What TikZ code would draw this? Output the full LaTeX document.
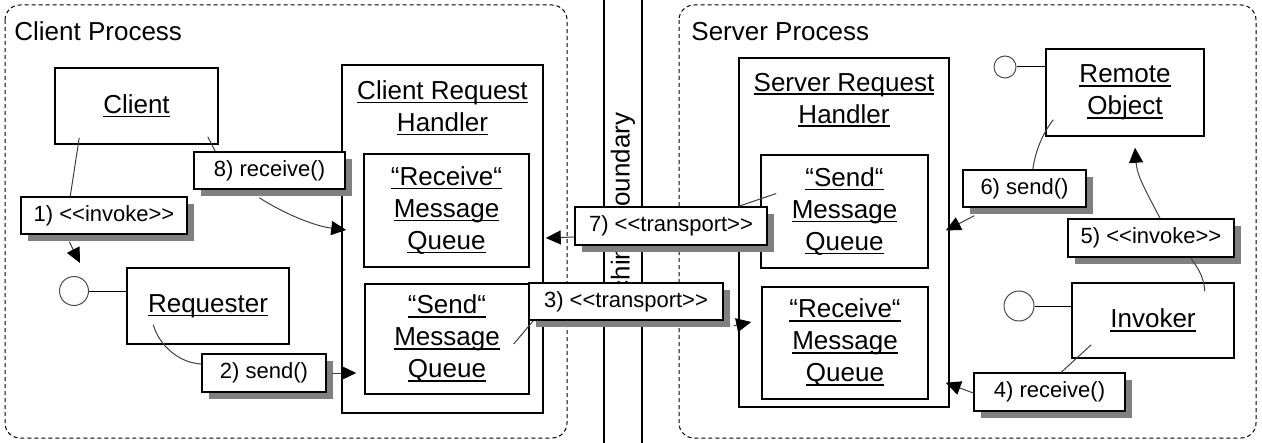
\documentclass[tikz,border=0pt]{standalone}
\usepackage{fontspec}
\setmainfont{Liberation Sans}
\usepackage{tikz}
\usetikzlibrary{arrows.meta,calc}
\newsavebox\ulbox
\newcommand\ulin[1]{\sbox\ulbox{#1}\rlap{\rule[-2pt]{\wd\ulbox}{0.8pt}}\usebox\ulbox}
\newcommand\dlt{<\kern0pt<}
\newcommand\dgt{>\kern0pt>}
\begin{document}
\begin{tikzpicture}[x=0.5pt,y=-0.5pt,
	wh/.style 2 args={minimum width=#1*0.5pt,minimum height=#2*0.5pt},
	obj/.style={draw=black,line width=0.75pt,fill=white,inner sep=0pt,align=center,font=\fontsize{13}{16}\selectfont},
	msg/.style={obj,font=\fontsize{11}{13}\selectfont},
	shade/.style={fill=cshadow,inner sep=0pt},
	iface/.style={circle,draw=cface,line width=0.5pt,fill=white,inner sep=0pt},
	proc/.style={draw=black,line width=0.5pt,dash pattern=on 2pt off 1.5pt,rounded corners=7.5pt},
	link/.style={draw=clink,line width=0.5pt},
	call/.style={link,-{Triangle[length=7.5pt,width=7pt,color=black]}},
	ttl/.style={inner sep=0pt,font=\fontsize{13}{16}\selectfont}]
	\definecolor{cshadow}{rgb}{0.5,0.5,0.5}
	\definecolor{clink}{rgb}{0.25,0.25,0.25}
	\definecolor{cface}{rgb}{0.3,0.3,0.3}
	%
	\useasboundingbox (0,0) rectangle (1262,443);
	\draw[proc] (5,5) rectangle (567,438);
	\draw[proc] (679,5) rectangle (1256,438);
	\node[ttl,anchor=base west] (cproc) at (14,41) {Client Process};
	\node[ttl,anchor=base west] (sproc) at (691,41) {Server Process};
	\draw[line width=0.75pt] (604,0) -- (604,443);
	\draw[line width=0.75pt] (642,0) -- (642,443);
	\node[ttl,rotate=90] (boundary) at (623,221) {Machine Boundary};
	%
	\node[obj,wh={163}{76}] (client) at (136.5,106) {\ulin{Client}};
	\node[obj,wh={162}{76}] (requester) at (208,306) {\ulin{Requester}};
	\node[iface,minimum size=14.5pt] (reqif) at (74,291) {};
	\node[obj,wh={201}{348}] (crh) at (442.5,239) {};
	\node[ttl,align=center] (crhtitle) at (442.5,108) {\ulin{Client Request}\\\ulin{Handler}};
	\node[obj,wh={165}{113}] (crecv) at (446.5,210.5) {\ulin{“Receive“}\\\ulin{Message}\\\ulin{Queue}};
	\node[obj,wh={164}{110}] (csend) at (447,339) {\ulin{“Send“}\\\ulin{Message}\\\ulin{Queue}};
	%
	\node[obj,wh={210}{349}] (srh) at (844,232.5) {};
	\node[ttl,align=center] (srhtitle) at (844,100) {\ulin{Server Request}\\\ulin{Handler}};
	\node[obj,wh={167}{113}] (ssend) at (844.5,211.5) {\ulin{“Send“}\\\ulin{Message}\\\ulin{Queue}};
	\node[obj,wh={166}{112}] (srecv) at (845,343) {\ulin{“Receive“}\\\ulin{Message}\\\ulin{Queue}};
	\node[obj,wh={158}{87}] (remote) at (1125,92.5) {\ulin{Remote}\\\ulin{Object}};
	\node[iface,minimum size=11pt] (remif) at (1005,67) {};
	\node[obj,wh={162}{75}] (invoker) at (1153,320.5) {\ulin{Invoker}};
	\node[iface,minimum size=15pt] (invif) at (1019,306) {};
	%
	\draw[line width=0.5pt] (reqif.east) -- (reqif.east -| requester.west);
	\draw[line width=0.5pt] (remif.east) -- (remif.east -| remote.west);
	\draw[line width=0.5pt] (invif.east) -- (invif.east -| invoker.west);
	%
	\node[shade,wh={166}{37}] (sh1) at (111,222.5) {};
	\node[msg,wh={166}{37}] (msg1) at (104,215.5) {1) \dlt invoke\dgt};
	\node[shade,wh={151}{37}] (sh8) at (276.5,177.5) {};
	\node[msg,wh={151}{37}] (msg8) at (269.5,170.5) {8) receive()};
	\node[shade,wh={124}{38}] (sh2) at (271,380) {};
	\node[msg,wh={124}{38}] (msg2) at (264,373) {2) send()};
	\node[shade,wh={194}{37}] (sh3) at (633,308.5) {};
	\node[msg,wh={194}{37}] (msg3) at (626,301.5) {3) \dlt transport\dgt};
	\node[shade,wh={192}{38}] (sh7) at (678,233) {};
	\node[msg,wh={192}{38}] (msg7) at (671,226) {7) \dlt transport\dgt};
	\node[shade,wh={123}{37}] (sh6) at (1031.5,195.5) {};
	\node[msg,wh={123}{37}] (msg6) at (1024.5,188.5) {6) send()};
	\node[shade,wh={166}{38}] (sh5) at (1158,245) {};
	\node[msg,wh={166}{38}] (msg5) at (1151,238) {5) \dlt invoke\dgt};
	\node[shade,wh={151}{38}] (sh4) at (1056.5,399) {};
	\node[msg,wh={151}{38}] (msg4) at (1049.5,392) {4) receive()};
	%
	\draw[link] ($(client.south west)+(25,-7)$) -- ($(msg1.north west)+(50,0)$);
	\draw[call] ($(msg1.south west)+(49,7)$) -- ($(reqif.north)+(6,-13)$);
	\draw[link] ($(client.south east)+(-11,-8)$) -- ($(msg8.north west)+(22,0)$);
	\draw[call] ($(msg8.south west)+(66,8)$) .. controls ($(msg8.south west)+(91,24)$) and ($(crh.west)+(-27,-13)$) .. ($(crh.west)+(5,-9)$);
	\draw[link] ($(requester.south west)+(27,-20)$) .. controls ($(requester.south west)+(33,1)$) and ($(msg2.west)+(-22,-10)$) .. ($(msg2.west)+(0,-9)$);
	\draw[call] ($(msg2.east)+(5,0)$) -- ($(csend.west)+(-8,34)$);
	\draw[link] ($(csend.east)+(-16,5)$) -- ($(msg3.south west)+(5,0)$);
	\draw[call] ($(msg3.south east)+(10,5)$) -- ($(srecv.west)+(-10,-21)$);
	\draw[link] ($(invoker.south west)+(20,-14)$) -- ($(msg4.north west)+(88,0)$);
	\draw[call] ($(msg4.west)+(0,1)$) -- ($(srh.south east)+(-4,-25)$);
	\draw[link] ($(invoker.north east)+(-30,9)$) .. controls ($(invoker.north east)+(-31,-8)$) and ($(msg5.south east)+(-39,8)$) .. ($(msg5.south east)+(-44,0)$);
	\draw[call] ($(msg5.north)+(9,0)$) .. controls ($(msg5.north)+(-6,-29)$) and ($(remote.south)+(12,39)$) .. ($(remote.south)+(10,11)$);
	\draw[link] ($(remote.south west)+(8,-17)$) .. controls ($(remote.south west)+(-2,-4)$) and ($(msg6.north east)+(-51,-20)$) .. ($(msg6.north east)+(-54,0)$);
	\draw[call] ($(msg6.south west)+(12,8)$) -- ($(srh.east)+(-4,-2)$);
	\draw[link] ($(ssend.west)+(16,-18)$) -- ($(msg7.north east)+(-29,0)$);
	\draw[call] ($(msg7.west)+(0,11)$) -- ($(crh.east)+(2,-1)$);
	%
\end{tikzpicture}
\end{document}
